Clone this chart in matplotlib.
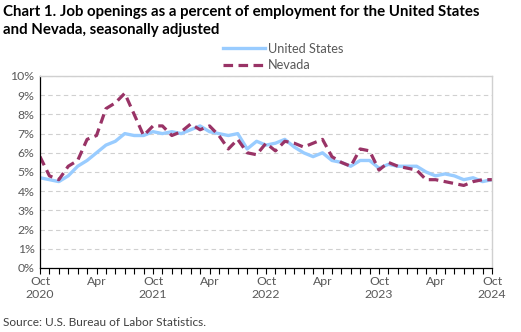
import matplotlib
matplotlib.use('Agg')
import matplotlib.pyplot as plt

plt.rcParams['font.family'] = ['Lato', 'DejaVu Sans']

# monthly data, Oct 2020 - Oct 2024
us_rate = [4.7, 4.6, 4.5, 4.8, 5.3, 5.6, 6.0, 6.4, 6.6, 7.0, 6.9, 6.9,
           7.1, 7.0, 7.1, 7.0, 7.2, 7.4, 7.1, 7.0, 6.9, 7.0, 6.2, 6.6,
           6.4, 6.5, 6.7, 6.3, 6.0, 5.8, 6.0, 5.6, 5.5, 5.3, 5.6, 5.6,
           5.2, 5.4, 5.3, 5.3, 5.3, 5.0, 4.8, 4.9, 4.8, 4.6, 4.7, 4.5, 4.6]
nv_rate = [5.8, 4.8, 4.6, 5.3, 5.6, 6.7, 6.9, 8.3, 8.6, 9.1, 8.0, 6.9,
           7.4, 7.4, 6.9, 7.1, 7.5, 7.2, 7.4, 6.9, 6.2, 6.7, 6.0, 5.9,
           6.5, 6.1, 6.6, 6.5, 6.3, 6.5, 6.7, 5.8, 5.5, 5.3, 6.2, 6.1,
           5.1, 5.5, 5.3, 5.2, 5.1, 4.6, 4.6, 4.5, 4.4, 4.3, 4.5, 4.6, 4.6]
month_labels = {0: 'Oct\n2020', 6: 'Apr', 12: 'Oct\n2021', 18: 'Apr',
                24: 'Oct\n2022', 30: 'Apr', 36: 'Oct\n2023', 42: 'Apr',
                48: 'Oct\n2024'}

months = list(range(len(us_rate)))

fig = plt.figure(figsize=(5.21, 3.32), dpi=100)
ax = fig.add_axes([40 / 521, 1 - 268 / 332, 452 / 521, 192 / 332])

ax.plot(months, us_rate, color='#99ccff', lw=2.4, label='United States',
        solid_joinstyle='round')
ax.plot(months, nv_rate, color='#993366', lw=2.3, ls=(0, (3.0, 1.7)),
        label='Nevada')

ax.set_xlim(0, 48)
ax.set_ylim(0, 10)
ax.set_yticks(range(0, 11))
ax.set_yticklabels(['{}%'.format(v) for v in range(0, 11)])
ax.set_xticks(months)
ax.set_xticklabels([month_labels.get(m, '') for m in months])
ax.tick_params(axis='x', length=4, width=0.8, color='#000000',
               labelsize=8.8, labelcolor='#595959', pad=2)
ax.tick_params(axis='y', length=0, labelsize=8.8, labelcolor='#595959', pad=4)

ax.grid(axis='y', color='#d0d0d0', ls=(0, (4, 3)), lw=0.8)
ax.set_axisbelow(True)
for side in ['top', 'right']:
    ax.spines[side].set_color('#d0d0d0')
    ax.spines[side].set_linewidth(1.0)
for side in ['left', 'bottom']:
    ax.spines[side].set_color('#000000')
    ax.spines[side].set_linewidth(0.9)

fig.text(3 / 521, 1 - 5 / 332,
         'Chart 1. Job openings as a percent of employment for the United States\n'
         'and Nevada, seasonally adjusted',
         ha='left', va='top', fontsize=10.8, fontweight='bold',
         linespacing=1.4)

fig.legend(loc='center', bbox_to_anchor=(283 / 521, 1 - 57 / 332),
           frameon=False, fontsize=9.2, handlelength=3.3, handletextpad=0.2,
           labelspacing=0.35, labelcolor='#595959')

fig.text(3 / 521, 1 - 323 / 332, 'Source: U.S. Bureau of Labor Statistics.',
         ha='left', va='center', fontsize=8.6, color='#404040')

fig.savefig('out.png', dpi=100)
